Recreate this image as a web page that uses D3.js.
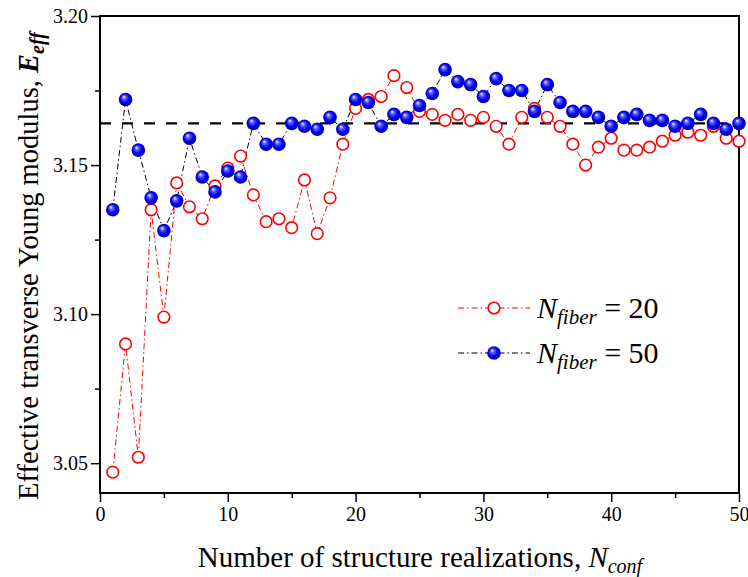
<!DOCTYPE html>
<html>
<head>
<meta charset="utf-8">
<script src="https://cdn.jsdelivr.net/npm/d3@7"></script>
</head>
<body style="margin:0;background:#fff;">
<svg id="chart" width="748" height="577" style="font-family:'Liberation Serif','Times New Roman',serif"></svg>
<script>
// realization index 1..50
var realizations = d3.range(1, 51);

// N_fiber = 20
var eff20 = [3.047, 3.090, 3.052, 3.135, 3.099, 3.144, 3.136, 3.132, 3.143, 3.149,
             3.153, 3.140, 3.131, 3.132, 3.129, 3.145, 3.127, 3.139, 3.157, 3.169,
             3.172, 3.173, 3.180, 3.176, 3.168, 3.167, 3.165, 3.167, 3.165, 3.166,
             3.163, 3.157, 3.166, 3.169, 3.166, 3.163, 3.157, 3.150, 3.156, 3.159,
             3.155, 3.155, 3.156, 3.158, 3.160, 3.161, 3.160, 3.163, 3.159, 3.158];

// N_fiber = 50
var eff50 = [3.135, 3.172, 3.155, 3.139, 3.128, 3.138, 3.159, 3.146, 3.141, 3.148,
             3.146, 3.164, 3.157, 3.157, 3.164, 3.163, 3.162, 3.166, 3.162, 3.172,
             3.171, 3.163, 3.167, 3.166, 3.170, 3.174, 3.182, 3.178, 3.177, 3.173,
             3.179, 3.175, 3.175, 3.168, 3.177, 3.171, 3.168, 3.168, 3.166, 3.163,
             3.166, 3.167, 3.165, 3.165, 3.163, 3.164, 3.167, 3.164, 3.162, 3.164];

var refValue = 3.164;
var xTicks = [0, 10, 20, 30, 40, 50];
var yTicks = [3.05, 3.10, 3.15, 3.20];

var FONT = "'Liberation Serif', 'Times New Roman', serif";
var svg = d3.select("#chart");
var m = {left: 100, right: 739, top: 16, bottom: 493};

var x = d3.scaleLinear().domain([0, 50]).range([m.left, m.right]);
var y = d3.scaleLinear().domain([3.04, 3.20]).range([m.bottom, m.top]);

// gradient for the shaded blue balls
var defs = svg.append("defs");
var grad = defs.append("radialGradient")
	.attr("id", "ball")
	.attr("cx", "0.5").attr("cy", "0.5").attr("r", "0.55")
	.attr("fx", "0.35").attr("fy", "0.3");
grad.append("stop").attr("offset", "0").attr("stop-color", "#ffffff");
grad.append("stop").attr("offset", "0.25").attr("stop-color", "#6060ff");
grad.append("stop").attr("offset", "0.6").attr("stop-color", "#0000f0");
grad.append("stop").attr("offset", "1").attr("stop-color", "#0000a0");

// axes (ticks only on left and bottom, pointing out)
var xAxis = svg.append("g").attr("transform", "translate(0," + m.bottom + ")")
	.call(d3.axisBottom(x).tickValues(d3.range(0, 51, 5)).tickSize(8).tickFormat(function(d){
		return xTicks.indexOf(d) >= 0 ? d : "";
	}));
xAxis.selectAll(".tick line").attr("y2", function(d){ return d % 10 == 0 ? 9 : 5; });
xAxis.selectAll(".tick text").attr("y", 14).style("font-size", "20px");

var yAxis = svg.append("g").attr("transform", "translate(" + m.left + ",0)")
	.call(d3.axisLeft(y).tickValues([3.05, 3.075, 3.10, 3.125, 3.15, 3.175, 3.20]).tickSize(8)
		.tickFormat(function(d){
			var hit = yTicks.some(function(t){ return Math.abs(t - d) < 1e-6; });
			return hit ? d3.format(".2f")(d) : "";
		}));
yAxis.selectAll(".tick line").attr("x2", function(d, i){ return i % 2 == 0 ? -9 : -5; });
yAxis.selectAll(".tick text").attr("x", -12).style("font-size", "20px");

// drop the axis defaults (sans-serif, 10px) so the serif font is inherited
xAxis.attr("font-family", null).attr("font-size", null);
yAxis.attr("font-family", null).attr("font-size", null);

svg.selectAll(".domain").remove();
svg.selectAll(".tick line").attr("stroke", "#000").attr("stroke-width", 1.5);

// frame
svg.append("rect")
	.attr("x", m.left).attr("y", m.top)
	.attr("width", m.right - m.left).attr("height", m.bottom - m.top)
	.attr("fill", "none").attr("stroke", "#000").attr("stroke-width", 2);

// reference dashed line
svg.append("line")
	.attr("x1", x(0)).attr("x2", x(50))
	.attr("y1", y(refValue)).attr("y2", y(refValue))
	.attr("stroke", "#000").attr("stroke-width", 2.2)
	.attr("stroke-dasharray", "11,11");

var line = d3.line()
	.x(function(d, i){ return x(realizations[i]); })
	.y(function(d){ return y(d); });

var plot = svg.append("g");

plot.append("path").datum(eff20)
	.attr("d", line).attr("fill", "none")
	.attr("stroke", "#ff0000").attr("stroke-width", 1)
	.attr("stroke-dasharray", "6,3,1.5,3");

plot.append("path").datum(eff50)
	.attr("d", line).attr("fill", "none")
	.attr("stroke", "#000").attr("stroke-width", 1)
	.attr("stroke-dasharray", "6,3,1.5,3");

plot.selectAll(".p20").data(eff20).enter().append("circle")
	.attr("class", "p20")
	.attr("cx", function(d, i){ return x(realizations[i]); })
	.attr("cy", function(d){ return y(d); })
	.attr("r", 5.8)
	.attr("fill", "#fff").attr("stroke", "#ff0000").attr("stroke-width", 1.6);

plot.selectAll(".p50").data(eff50).enter().append("circle")
	.attr("class", "p50")
	.attr("cx", function(d, i){ return x(realizations[i]); })
	.attr("cy", function(d){ return y(d); })
	.attr("r", 6.8)
	.attr("fill", "url(#ball)");

// legend
var legend = [
	{label: "20", color: "#ff0000", y: 308, open: true},
	{label: "50", color: "#000", y: 353, open: false}
];
legend.forEach(function(l){
	svg.append("line")
		.attr("x1", 458).attr("x2", 530).attr("y1", l.y).attr("y2", l.y)
		.attr("stroke", l.color).attr("stroke-width", 1)
		.attr("stroke-dasharray", "6,3,1.5,3");
	if(l.open){
		svg.append("circle").attr("cx", 494).attr("cy", l.y).attr("r", 5.8)
			.attr("fill", "#fff").attr("stroke", "#ff0000").attr("stroke-width", 1.6);
	} else {
		svg.append("circle").attr("cx", 494).attr("cy", l.y).attr("r", 6.8)
			.attr("fill", "url(#ball)");
	}
	var t = svg.append("text").attr("x", 537).attr("y", l.y + 10).style("font-size", "30px");
	t.append("tspan").style("font-style", "italic").text("N");
	t.append("tspan").style("font-style", "italic").style("font-size", "21px").attr("dy", 6).text("fiber");
	t.append("tspan").attr("dy", -6).text(" = " + l.label);
});

// axis titles
var xt = svg.append("text")
	.attr("x", 420).attr("y", 567)
	.attr("text-anchor", "middle")
	.style("font-size", "29px");
xt.append("tspan").text("Number of structure realizations, ");
xt.append("tspan").style("font-style", "italic").text("N");
xt.append("tspan").style("font-style", "italic").style("font-size", "20px").attr("dy", 6).text("conf");

var yt = svg.append("text")
	.attr("transform", "translate(38,266) rotate(-90)")
	.attr("text-anchor", "middle")
	.style("font-size", "28.5px");
yt.append("tspan").text("Effective transverse Young modulus, ");
yt.append("tspan").style("font-style", "italic").style("font-weight", "bold").text("E");
yt.append("tspan").style("font-style", "italic").style("font-weight", "bold").style("font-size", "20px").attr("dy", 6).text("eff");

svg.selectAll("text").style("font-family", FONT).attr("fill", "#000");
</script>
</body>
</html>
